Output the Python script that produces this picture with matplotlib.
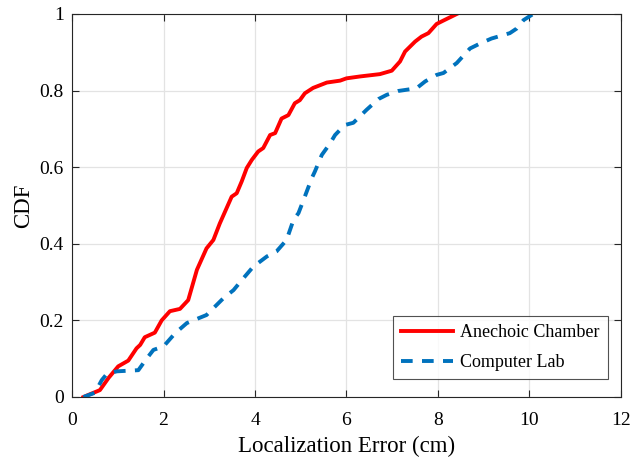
import matplotlib as mpl
import matplotlib.pyplot as plt

# Anechoic Chamber CDF (error in cm, cumulative fraction)
anechoic_x = [0.25, 0.61, 0.80, 1.01, 1.23, 1.41, 1.49, 1.59, 1.81, 1.96, 2.14, 2.36,
              2.54, 2.73, 2.94, 3.09, 3.23, 3.49, 3.60, 3.71, 3.82, 3.93, 4.07, 4.18,
              4.33, 4.44, 4.58, 4.73, 4.87, 4.98, 5.09, 5.27, 5.57, 5.86, 6.00, 6.30,
              6.73, 6.99, 7.17, 7.28, 7.50, 7.64, 7.79, 7.97, 8.12, 8.41]
anechoic_y = [0.0, 0.018, 0.05, 0.08, 0.095, 0.127, 0.136, 0.156, 0.168, 0.20, 0.224, 0.23,
              0.253, 0.332, 0.388, 0.41, 0.453, 0.523, 0.532, 0.563, 0.598, 0.619, 0.641, 0.65,
              0.684, 0.689, 0.727, 0.736, 0.767, 0.775, 0.793, 0.807, 0.821, 0.826, 0.832, 0.837,
              0.843, 0.852, 0.876, 0.902, 0.928, 0.941, 0.950, 0.974, 0.983, 1.0]

# Computer Lab CDF
lab_x = [0.25, 0.50, 0.65, 0.76, 0.98, 1.45, 1.63, 1.78, 2.00, 2.25, 2.51, 2.65,
         2.94, 3.31, 3.53, 3.71, 3.96, 4.26, 4.47, 4.69, 4.84, 4.95, 5.06, 5.24,
         5.31, 5.46, 5.64, 5.75, 5.96, 6.15, 6.44, 6.70, 6.88, 7.13, 7.53, 7.72,
         7.97, 8.12, 8.41, 8.70, 8.92, 9.17, 9.57, 9.72, 9.87, 10.08]
lab_y = [0.0, 0.011, 0.044, 0.06, 0.067, 0.07, 0.10, 0.123, 0.132, 0.166, 0.193, 0.20,
         0.214, 0.258, 0.279, 0.305, 0.34, 0.367, 0.38, 0.41, 0.462, 0.48, 0.514, 0.571,
         0.589, 0.632, 0.662, 0.684, 0.71, 0.716, 0.75, 0.778, 0.789, 0.799, 0.806, 0.824,
         0.841, 0.846, 0.872, 0.91, 0.923, 0.936, 0.95, 0.962, 0.984, 1.0]

mpl.rcParams['font.family'] = ['Liberation Serif', 'DejaVu Serif']

fig = plt.figure(figsize=(6.39, 4.59), dpi=100)
ax = fig.add_axes([0.1127, 0.1351, 0.8591, 0.8344])

ax.plot(anechoic_x, anechoic_y, color='#ff0000', linewidth=2.8, label='Anechoic Chamber')
ax.plot(lab_x, lab_y, color='#0072bd', linewidth=2.8, linestyle=(0, (3, 2.4)),
        label='Computer Lab')

ax.set_xlim(0, 12)
ax.set_ylim(0, 1)
ax.set_xticks(range(0, 13, 2))
ax.set_yticks([0, 0.2, 0.4, 0.6, 0.8, 1])
ax.set_yticklabels(['0', '0.2', '0.4', '0.6', '0.8', '1'])
ax.grid(True, color='#e3e3e3', linewidth=0.9)
ax.set_axisbelow(True)
ax.tick_params(direction='in', top=True, right=True, labelsize=14, length=5,
               color='#262626')
ax.tick_params(axis='x', pad=11)
ax.tick_params(axis='y', pad=6)
for s in ax.spines.values():
    s.set_color('#262626')
    s.set_linewidth(0.8)

ax.set_xlabel('Localization Error (cm)', fontsize=16.5, labelpad=5)
ax.set_ylabel('CDF', fontsize=16.5, labelpad=4)

leg = ax.legend(loc='lower right', bbox_to_anchor=(0.9763, 0.047), fontsize=13,
                frameon=True, fancybox=False, edgecolor='#262626',
                handlelength=2.9, handletextpad=0.4, borderaxespad=0,
                borderpad=0.45, labelspacing=0.7)
leg.get_frame().set_linewidth(0.8)

plt.savefig('out.png', dpi=100)
plt.close()
